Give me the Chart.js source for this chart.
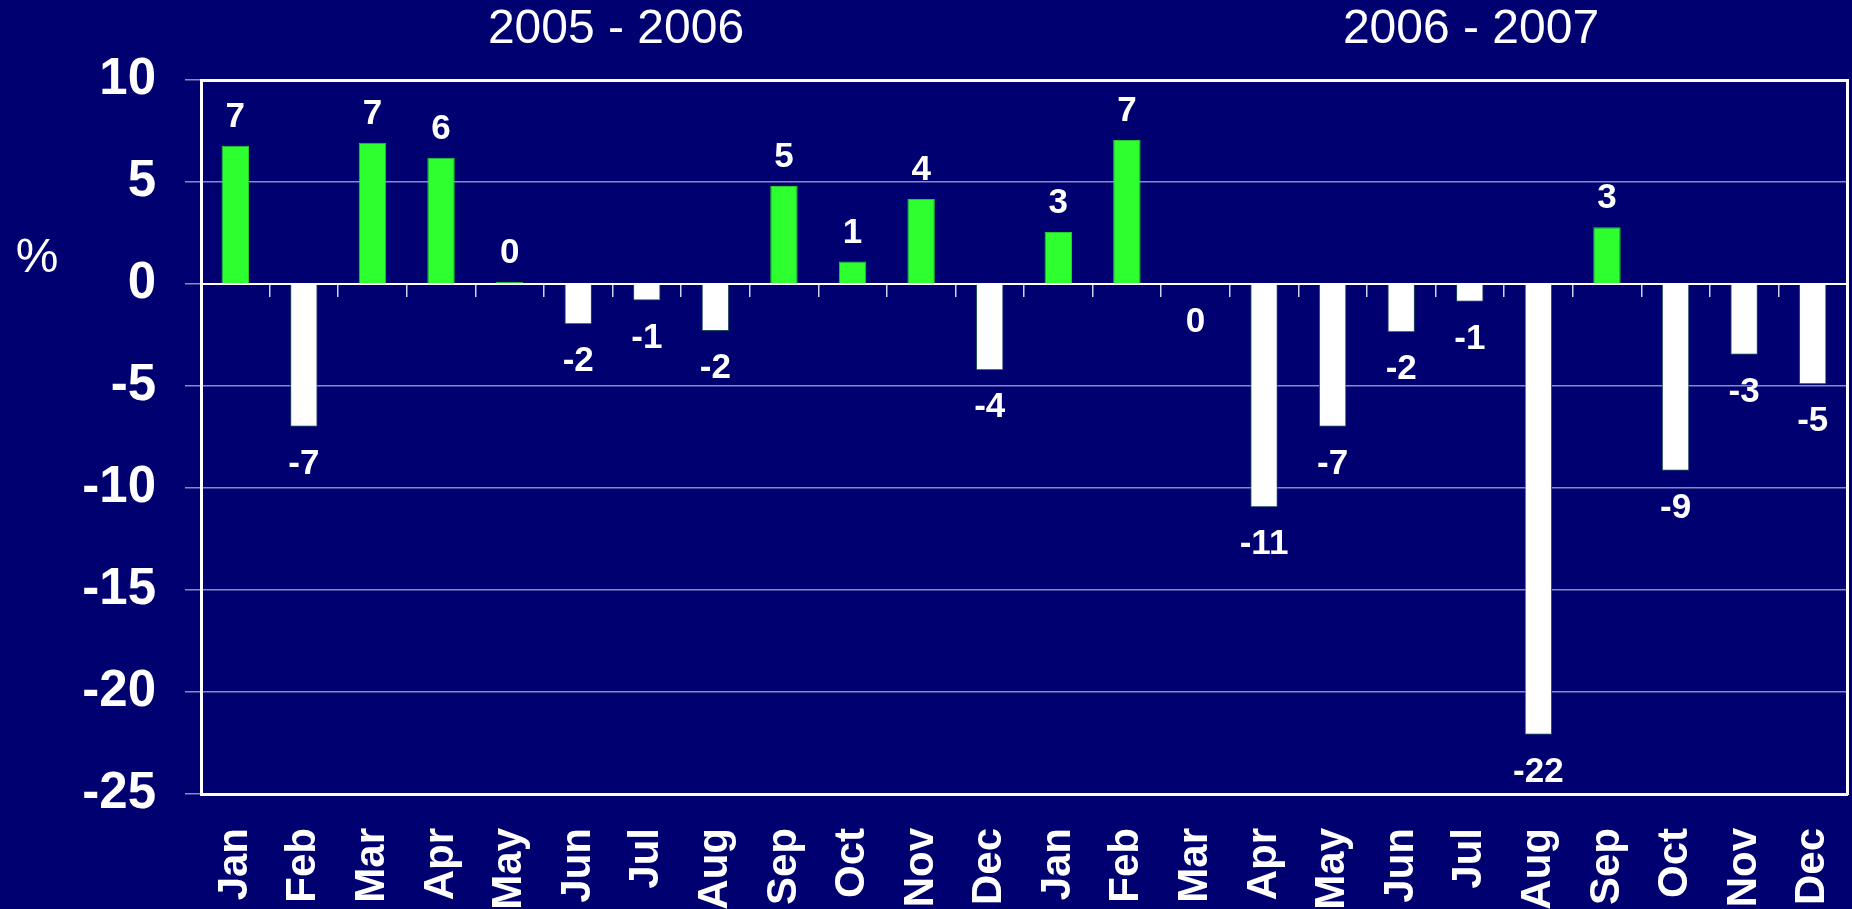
<!DOCTYPE html>
<html>
<head>
<meta charset="utf-8">
<script src="https://cdn.jsdelivr.net/npm/chart.js@4.4.1/dist/chart.umd.min.js"></script>
<style>
    html, body { margin: 0; padding: 0; background: #000070; }
    #wrap { width: 1852px; height: 909px; position: relative; }
</style>
</head>
<body>
<div id="wrap"><canvas id="chart"></canvas></div>
<script>
// monthly change, %, Jan 2005/06 .. Dec 2006/07
const months = ['Jan', 'Feb', 'Mar', 'Apr', 'May', 'Jun', 'Jul', 'Aug', 'Sep', 'Oct', 'Nov', 'Dec',
    'Jan', 'Feb', 'Mar', 'Apr', 'May', 'Jun', 'Jul', 'Aug', 'Sep', 'Oct', 'Nov', 'Dec'];
const changePct = [6.78, -7.0, 6.93, 6.19, 0.1, -1.97, -0.81, -2.3, 4.8, 1.1, 4.17, -4.23,
    2.55, 7.06, -0.05, -10.94, -7.0, -2.37, -0.87, -22.1, 2.78, -9.15, -3.47, -4.92];
const periodTitles = ['2005 - 2006', '2006 - 2007'];
const yMin = -25;
const yMax = 10;
const yStep = 5;

const FONT = "'Liberation Sans', Arial, sans-serif";
const BG = '#000070';
const GREEN = '#2eff2e';

// background, "%" and the two period headings
const decorPlugin = {
    id: 'decor',
    beforeDraw(chart) {
        const c = chart.ctx;
        c.save();
        c.fillStyle = BG;
        c.fillRect(0, 0, chart.width, chart.height);
        c.restore();
    },
    afterDraw(chart) {
        const c = chart.ctx;
        c.save();
        c.fillStyle = '#ffffff';
        c.textAlign = 'center';
        c.textBaseline = 'alphabetic';
        c.font = '48px ' + FONT;
        c.fillText(periodTitles[0], 616, 43);
        c.fillText(periodTitles[1], 1471, 43);
        c.fillText('%', 37, 272);
        c.restore();
    },
};

// rounded value above / below each bar
const valueLabels = {
    id: 'valueLabels',
    afterDatasetsDraw(chart) {
        const c = chart.ctx;
        const meta = chart.getDatasetMeta(0);
        c.save();
        c.fillStyle = '#ffffff';
        c.font = 'bold 35px ' + FONT;
        c.textAlign = 'center';
        c.textBaseline = 'alphabetic';
        meta.data.forEach((bar, i) => {
            const v = changePct[i];
            const txt = String(Math.round(v) || 0);
            const y = v >= 0 ? bar.y - 19 : bar.y + 47;
            c.fillText(txt, bar.x, y);
        });
        c.restore();
    },
};

new Chart(document.getElementById('chart'), {
    type: 'bar',
    data: {
        labels: months,
        datasets: [{
            data: changePct,
            backgroundColor: changePct.map(v => v >= 0 ? GREEN : '#ffffff'),
            borderColor: changePct.map(v => v >= 0 ? '#27c82f' : '#1d4d5c'),
            borderWidth: 1,
            categoryPercentage: 1,
            barPercentage: 0.4,
        }],
    },
    options: {
        responsive: true,
        maintainAspectRatio: false,
        animation: false,
        layout: { padding: { top: 80, right: 5, left: 0, bottom: 0 } },
        plugins: {
            legend: { display: false },
            tooltip: { enabled: false },
        },
        scales: {
            x: {
                offset: true,
                grid: { offset: true, drawOnChartArea: false, drawTicks: false },
                border: { color: '#ffffff', width: 3 },
                ticks: {
                    autoSkip: false,
                    minRotation: 90,
                    maxRotation: 90,
                    padding: 34,
                    color: '#ffffff',
                    font: { family: FONT, size: 42, weight: 'bold' },
                },
                afterFit: (s) => {
                    s.height = 115;
                    s.paddingLeft = 0;
                    s.paddingRight = 0;
                },
            },
            // zero line with hanging tick marks
            xZero: {
                type: 'category',
                position: { y: 0 },
                offset: true,
                grid: { offset: true, drawOnChartArea: false, drawTicks: true, tickLength: 12, color: '#d0d0e8', lineWidth: 1.5 },
                border: { color: '#ffffff', width: 2 },
                ticks: { display: false },
                afterFit: (s) => { s.height = 0; },
            },
            xTop: {
                type: 'category',
                position: 'top',
                grid: { drawOnChartArea: false, drawTicks: false },
                border: { color: '#ffffff', width: 3 },
                ticks: { display: false },
                afterFit: (s) => { s.height = 0; },
            },
            y: {
                min: yMin,
                max: yMax,
                grid: { color: '#8a8ac0', lineWidth: 1.5, tickLength: 16 },
                border: { color: '#ffffff', width: 3 },
                ticks: {
                    stepSize: yStep,
                    padding: 29,
                    color: '#ffffff',
                    font: { family: FONT, size: 51, weight: 'bold' },
                },
                afterFit: (s) => { s.width = 201; },
            },
            yRight: {
                type: 'linear',
                position: 'right',
                min: yMin,
                max: yMax,
                grid: { drawOnChartArea: false, drawTicks: false },
                border: { color: '#ffffff', width: 3 },
                ticks: { display: false },
                afterFit: (s) => { s.width = 0; },
            },
        },
    },
    plugins: [decorPlugin, valueLabels],
});
</script>
</body>
</html>
